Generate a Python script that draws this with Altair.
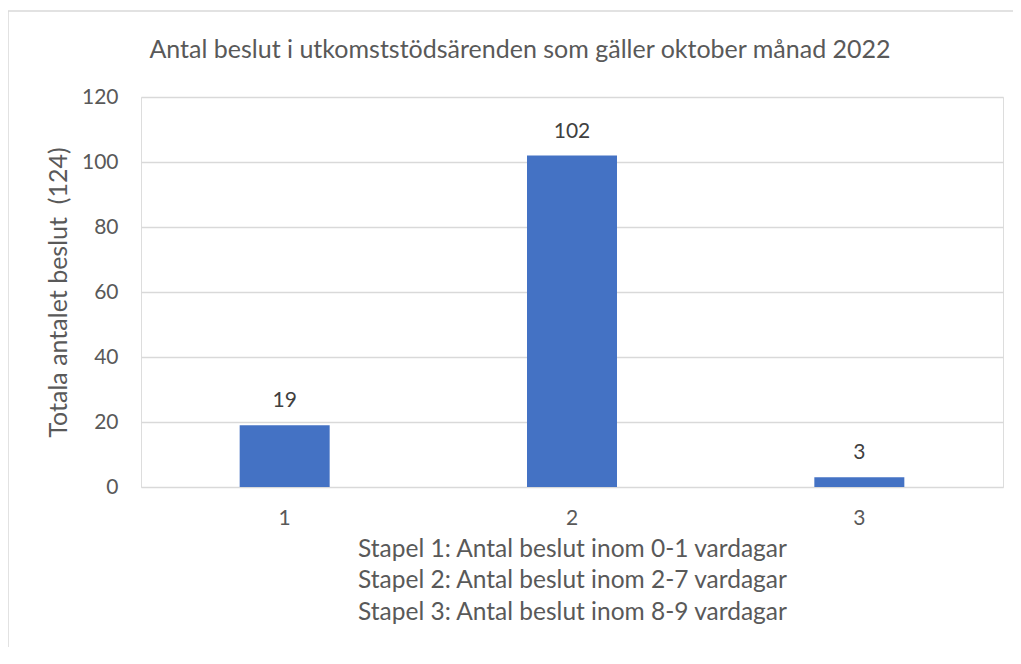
import altair as alt
import pandas as pd

categories = ["1", "2", "3"]
values = [19, 102, 3]
title_text = "Antal beslut i utkomststödsärenden som gäller oktober månad 2022"
y_title = "Totala antalet beslut \u00a0(124)"
x_title_lines = [
    "Stapel 1: Antal beslut inom 0-1 vardagar",
    "Stapel 2: Antal beslut inom 2-7 vardagar",
    "Stapel 3: Antal beslut inom 8-9 vardagar",
]
y_ticks = [0, 20, 40, 60, 80, 100, 120]

df = pd.DataFrame({"cat": categories, "val": values})

FONT = "Lato"
GREY = "#595959"

x_enc = alt.X(
    "cat:N",
    sort=categories,
    scale=alt.Scale(paddingInner=0, paddingOuter=0),
    axis=alt.Axis(
        title=x_title_lines,
        labelAngle=0,
        labelFontSize=21,
        labelColor=GREY,
        labelFont=FONT,
        labelPadding=20,
        domain=False,
        ticks=False,
        titleFontSize=24.5,
        titleFont=FONT,
        titleColor=GREY,
        titleFontWeight="normal",
        titleLineHeight=31.5,
        titlePadding=9,
    ),
)
y_enc = alt.Y(
    "val:Q",
    scale=alt.Scale(domain=[0, 120]),
    axis=alt.Axis(
        title=y_title,
        values=y_ticks,
        labelFontSize=21,
        labelColor=GREY,
        labelFont=FONT,
        labelPadding=23,
        domain=False,
        ticks=False,
        gridColor="#d9d9d9",
        gridWidth=1.5,
        titleFontSize=25,
        titleFont=FONT,
        titleColor=GREY,
        titleFontWeight="normal",
        titlePadding=10,
    ),
)

bars = alt.Chart(df).mark_bar(color="#4472C4", size=90).encode(x=x_enc, y=y_enc)
labels = alt.Chart(df).mark_text(
    dy=-18, baseline="alphabetic", fontSize=21, font=FONT, color="#404040"
).encode(x=alt.X("cat:N", sort=categories), y="val:Q", text="val:Q")

border = alt.Chart(pd.DataFrame({"b": [0]})).mark_rect(
    fill=None, stroke="#d9d9d9", strokeWidth=1.5
).encode(
    x=alt.value(-133), x2=alt.value(1000), y=alt.value(-86), y2=alt.value(700)
)

chart = (
    alt.layer(border, bars, labels)
    .properties(
        width=862,
        height=390,
        padding={"left": 133, "top": 89, "right": 10, "bottom": 160},
        autosize=alt.AutoSizeParams(type="none"),
        title=alt.TitleParams(
            title_text,
            font=FONT,
            fontSize=25,
            fontWeight="normal",
            color=GREY,
            anchor="middle",
            frame="group",
            baseline="alphabetic",
            dx=-52,
            offset=-73,
        ),
    )
    .configure_view(stroke=None)
    .configure(background="white")
)

chart.save("out.html", embed_options={"renderer": "svg", "actions": False})
